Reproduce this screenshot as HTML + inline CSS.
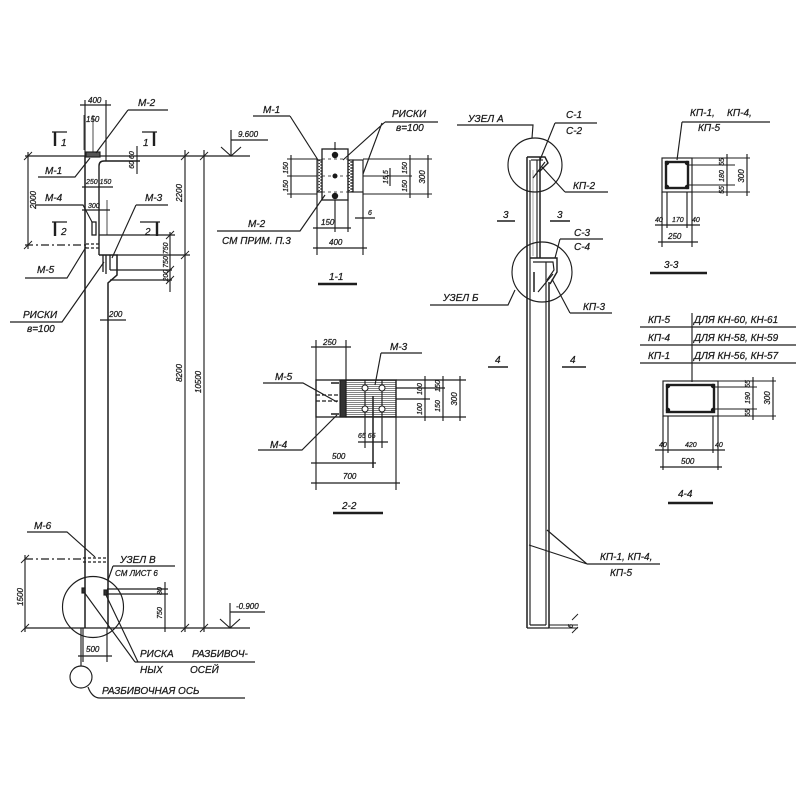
<!DOCTYPE html>
<html><head><meta charset="utf-8"><style>
html,body{margin:0;padding:0;background:#fff;}
svg{display:block;}
text{font-family:"Liberation Sans","DejaVu Sans",sans-serif;font-style:italic;font-size:10px;fill:#1a1a1a;stroke:#1a1a1a;stroke-width:0.25;}
.s{font-size:8px;}
.xs{font-size:7px;}
</style></head><body>
<svg width="800" height="800" viewBox="0 0 800 800" xmlns="http://www.w3.org/2000/svg">
<defs>
<pattern id="hh" width="4" height="2" patternUnits="userSpaceOnUse"><rect width="4" height="2" fill="#fff"/><line x1="0" y1="0.5" x2="4" y2="0.5" stroke="#666" stroke-width="0.8"/></pattern>
<pattern id="zz" width="5" height="3" patternUnits="userSpaceOnUse"><rect width="5" height="3" fill="#fff"/><path d="M0,0 L5,1.5 L0,3" fill="none" stroke="#333" stroke-width="0.8"/></pattern>
</defs>
<g fill="none" stroke="#1e1e1e" stroke-width="1.15">
<!-- ===== LEFT COLUMN ELEVATION ===== -->
<path d="M85,156 V628" stroke-width="1.5"/>
<path d="M25,156 H250"/>
<path d="M25,628 H250"/>
<rect x="86" y="152" width="14" height="5" fill="#555"/>
<path d="M99,255 V166 Q99,161 104,161 H140" stroke-width="1.4"/>
<path d="M99,255 H117 V275 L108,283 V628" stroke-width="1.5"/>
<!-- 400 dim -->
<path d="M85,100 V156 M106,100 V161 M80,105 H111"/>
<path d="M84,115 V150 M93,115 V152" stroke-width="0.8"/>
<!-- M-4 -->
<rect x="92" y="222" width="4" height="13" stroke-width="1.3"/>
<!-- M-5 dashes -->
<path d="M86,244 H99 M86,248 H99" stroke-dasharray="3,2"/>
<path d="M25,245 H86" stroke-dasharray="8,3,2,3"/>
<path d="M99,235 H175"/>
<path d="M117,255 H190"/>
<path d="M110,270 H172 M110,280 H172"/>
<path d="M170,232 V292"/>
<path d="M103,255 V272 M106,255 V274 M110,255 V270" stroke-width="1.3"/>
<!-- 2000 dim -->
<path d="M28,152 V249"/>
<!-- small dims -->
<path d="M82,187 H113"/>
<path d="M82,210 H110"/>
<path d="M107,200 V235" stroke-width="0.8"/>
<path d="M137,146 V174"/>
<path d="M100,320 H126"/>
<!-- section marks -->
<path d="M52,132 H67 M142,132 H157 M52,222 H67 M140,222 H160" stroke-width="1.3"/>
<path d="M55,132 V146 M154,132 V146 M55,222 V236 M157,222 V236" stroke-width="2.4"/>
<!-- right dims -->
<path d="M185,150 V632 M204,150 V632"/>
<path d="M181,160 L189,152 M181,259 L189,251 M181,632 L189,624 M200,160 L208,152 M200,632 L208,624 M24,160 L32,152 M24,249 L32,241 M166,239 L174,231 M166,274 L174,266 M166,284 L174,276 M21,632 L29,624 M21,563 L29,555" stroke-width="0.9"/>
<!-- 9.600 -->
<path d="M231,130 V156 M221,147 L231,156 L241,147 M231,140 H268"/>
<!-- -0.900 -->
<path d="M230,603 V628 M220,619 L230,628 L240,619 M230,612 H265"/>
<!-- leaders top -->
<path d="M128,110 H168 M128,110 L96,153"/>
<path d="M38,177 H75 L90,158"/>
<path d="M35,205 H83 L92,222"/>
<path d="M136,205 H168 M136,205 L112,258"/>
<path d="M25,278 H67 L86,247"/>
<path d="M10,322 H62 L104,262"/>
<!-- bottom left -->
<path d="M83,558 H107 M83,562 H107" stroke-dasharray="3,2" stroke-width="1.3"/>
<path d="M25,559 H83" stroke-dasharray="8,3,2,3"/>
<path d="M25,555 V632"/>
<circle cx="93" cy="607" r="30.5"/>
<rect x="82" y="588" width="3" height="5" fill="#333"/>
<rect x="104" y="590" width="3" height="5" fill="#333"/>
<path d="M107,589 H168 M107,594 H168 M165,582 V632"/>
<path d="M83,628 V662 M107,628 V662 M78,656 H112"/>
<path d="M81,628 V666"/>
<circle cx="81" cy="677" r="11"/>
<path d="M88,687 Q92,698 100,698 H245"/>
<path d="M84,592 L135,662 M106,595 L138,662 M135,662 H255"/>
<path d="M113,566 H175 M113,566 L108,580"/>
<path d="M27,532 H67 L95,557"/>

<!-- ===== SECTION 1-1 ===== -->
<rect x="322" y="149" width="26" height="51" stroke-width="1.3"/>
<rect x="317" y="160" width="5" height="32" fill="url(#zz)"/>
<rect x="348" y="160" width="5" height="32" fill="url(#zz)"/>
<rect x="353" y="160" width="10" height="32"/>
<path d="M287,159 H317 M363,159 H432 M287,176 H317 M363,176 H412 M287,194 H317 M363,194 H432" stroke-width="0.9"/>
<path d="M322,159 H348 M322,176 H348 M322,192 H348" stroke-dasharray="3,3" stroke-width="0.7"/>
<path d="M291,155 V198 M410,155 V198 M428,155 V198 M390,168 V186"/>
<path d="M317,192 V255 M363,192 V255 M348,200 V232 M335,200 V232 M335,142 V150"/>
<path d="M313,228 H351 M313,248 H367 M355,218 H375"/>
<path d="M290,116 H253 M290,116 L318,160"/>
<path d="M385,122 H438 M385,122 L343,160 M382,123 L363,174"/>
<path d="M217,231 H300 L325,195"/>
<path d="M318,284 H357" stroke-width="2.4"/>

<!-- ===== SECTION 2-2 ===== -->
<rect x="346" y="380" width="50" height="37" fill="url(#hh)"/>
<rect x="316" y="380" width="80" height="37" stroke-width="1.3"/>
<rect x="340" y="380" width="6" height="37" fill="#333"/>
<path d="M316,395 H338 M316,401 H338" stroke-dasharray="4,2" stroke-width="1.3"/>
<path d="M331,383 H339 M331,414 H339" stroke-width="1.6"/>
<path d="M365,380 V448 M382,380 V448"/>
<path d="M373,396 V468" stroke-width="1.5"/>
<path d="M316,340 V490 M346,340 V380 M396,417 V490"/>
<path d="M311,347 H351"/>
<path d="M396,380 H466 M396,388 H445 M396,399 H430 M396,417 H466"/>
<path d="M425,376 V421 M443,376 V421 M460,376 V421"/>
<path d="M358,442 H388"/>
<path d="M311,463 H376"/>
<path d="M311,483 H400"/>
<path d="M381,353 H422 M381,353 L375,385"/>
<path d="M263,383 H303 L337,402"/>
<path d="M258,450 H302 L337,415"/>
<path d="M333,513 H383" stroke-width="2.4"/>

<!-- ===== MIDDLE COLUMN ===== -->
<path d="M527,157 V628" stroke-width="1.5"/>
<path d="M530,160 V625"/>
<path d="M537,160 V258"/>
<path d="M540,157 V258" stroke-width="1.5"/>
<path d="M533,170 V256" stroke-width="0.7" stroke="#888"/>
<path d="M527,157 H545 L548,163 L539,172" stroke-width="1.4"/>
<path d="M531,160 H543"/>
<path d="M533,178 L545,162"/>
<path d="M530,258 H557 V272 L550,284" stroke-width="1.4"/>
<path d="M533,262 H553 L554,270 L547,280"/>
<path d="M546,262 V625"/>
<path d="M549,282 V628" stroke-width="1.5"/>
<path d="M538,292 L553,274"/>
<path d="M534,272 V292" stroke-width="1.5"/>
<path d="M527,628 H549 M530,625 H546"/>
<path d="M549,628 H578 M549,625 H578 M572,620 L578,614 M572,633 L578,627" stroke-width="0.9"/>
<circle cx="535" cy="165" r="27"/>
<circle cx="542" cy="272" r="30"/>
<path d="M457,125 H533 L532,138"/>
<path d="M555,123 H597 M555,123 L540,160"/>
<path d="M565,192 H608 M565,192 L542,167"/>
<path d="M497,221 H515 M550,221 H570" stroke-width="1.6"/>
<path d="M560,239 H603 M560,239 L555,258"/>
<path d="M570,313 H612 M570,313 L552,279"/>
<path d="M430,305 H508 L515,290"/>
<path d="M488,367 H508 M562,367 H586" stroke-width="1.6"/>
<path d="M529,545 L587,564 M547,530 L587,564 M587,564 H660"/>

<!-- ===== SECTION 3-3 ===== -->
<rect x="662" y="158" width="30" height="34"/>
<rect x="666" y="162" width="22" height="26" stroke-width="2.4"/>
<path d="M692,158 H750 M689,165 H735 M689,185 H735 M692,192 H750" stroke-width="0.9"/>
<path d="M727,154 V196 M747,154 V196"/>
<path d="M662,192 V247 M667,192 V228 M687,192 V228 M692,192 V247"/>
<path d="M655,225 H700 M658,242 H698"/>
<path d="M682,122 H770 M682,122 L677,160"/>
<path d="M650,273 H707" stroke-width="2.4"/>

<!-- ===== SECTION 4-4 ===== -->
<path d="M640,327 H796 M640,345 H796 M640,363 H796"/>
<path d="M692,313 V382"/>
<rect x="663" y="381" width="55" height="35"/>
<rect x="667" y="385" width="47" height="27" stroke-width="2.4"/>
<path d="M718,381 H776 M714,387 H757 M714,409 H757 M718,416 H776" stroke-width="0.9"/>
<path d="M753,377 V420 M773,377 V420"/>
<path d="M663,416 V470 M668,416 V453 M713,416 V453 M718,416 V470"/>
<path d="M655,450 H725 M660,467 H722"/>
<path d="M668,503 H713" stroke-width="2.4"/>
</g>

<!-- bars (filled dots) -->
<g fill="#1a1a1a" stroke="none">
<circle cx="335" cy="155" r="3.2"/><circle cx="335" cy="176" r="2.5"/><circle cx="335" cy="196" r="3.2"/>
<circle cx="365" cy="388" r="3" fill="#fff" stroke="#1a1a1a"/><circle cx="382" cy="388" r="3" fill="#fff" stroke="#1a1a1a"/>
<circle cx="365" cy="409" r="3" fill="#fff" stroke="#1a1a1a"/><circle cx="382" cy="409" r="3" fill="#fff" stroke="#1a1a1a"/>
<circle cx="667" cy="163" r="2.2"/><circle cx="687" cy="163" r="2.2"/><circle cx="667" cy="187" r="2.2"/><circle cx="687" cy="187" r="2.2"/>
<circle cx="668" cy="386" r="2.2"/><circle cx="713" cy="386" r="2.2"/><circle cx="668" cy="410" r="2.2"/><circle cx="713" cy="410" r="2.2"/>
</g>

<!-- ===== TEXT ===== -->
<!-- left column -->
<text class="s" x="88" y="103">400</text>
<text class="s" x="86" y="122">150</text>
<text x="138" y="106">М-2</text>
<text x="61" y="146">1</text>
<text x="143" y="146">1</text>
<text x="45" y="174">М-1</text>
<text class="xs" x="86" y="184">250 150</text>
<text x="45" y="201">М-4</text>
<text x="145" y="201">М-3</text>
<text class="xs" x="88" y="208">300</text>
<text x="61" y="235">2</text>
<text x="145" y="235">2</text>
<text x="37" y="273">М-5</text>
<text x="23" y="318">РИСКИ</text>
<text x="27" y="332">в=100</text>
<text class="s" x="109" y="317">200</text>
<text class="s" transform="translate(36,200) rotate(-90)" text-anchor="middle">2000</text>
<text class="s" transform="translate(182,193) rotate(-90)" text-anchor="middle">2200</text>
<text class="s" transform="translate(182,373) rotate(-90)" text-anchor="middle">8200</text>
<text class="s" transform="translate(201,382) rotate(-90)" text-anchor="middle">10500</text>
<text class="xs" transform="translate(134,160) rotate(-90)" text-anchor="middle">60 60</text>
<text class="xs" transform="translate(168,262) rotate(-90)" text-anchor="middle">200 750 750</text>
<text class="s" x="238" y="137">9.600</text>
<text class="s" x="236" y="609">-0.900</text>
<text x="34" y="529">М-6</text>
<text x="120" y="563">УЗЕЛ В</text>
<text class="s" x="115" y="576">СМ ЛИСТ 6</text>
<text class="s" transform="translate(23,597) rotate(-90)" text-anchor="middle">1500</text>
<text class="xs" transform="translate(162,591) rotate(-90)" text-anchor="middle">80</text>
<text class="xs" transform="translate(162,613) rotate(-90)" text-anchor="middle">750</text>
<text class="s" x="86" y="652">500</text>
<text x="140" y="657">РИСКА</text>
<text x="192" y="657">РАЗБИВОЧ-</text>
<text x="140" y="673">НЫХ</text>
<text x="190" y="673">ОСЕЙ</text>
<text x="102" y="694">РАЗБИВОЧНАЯ ОСЬ</text>
<!-- 1-1 -->
<text x="263" y="113">М-1</text>
<text x="392" y="117">РИСКИ</text>
<text x="396" y="131">в=100</text>
<text x="248" y="227">М-2</text>
<text x="222" y="244">СМ ПРИМ. П.3</text>
<text class="xs" transform="translate(288,168) rotate(-90)" text-anchor="middle">150</text>
<text class="xs" transform="translate(288,186) rotate(-90)" text-anchor="middle">150</text>
<text class="xs" transform="translate(388,177) rotate(-90)" text-anchor="middle">15,5</text>
<text class="xs" transform="translate(407,168) rotate(-90)" text-anchor="middle">150</text>
<text class="xs" transform="translate(407,186) rotate(-90)" text-anchor="middle">150</text>
<text class="s" transform="translate(425,177) rotate(-90)" text-anchor="middle">300</text>
<text class="s" x="321" y="225">150</text>
<text class="xs" x="368" y="215">6</text>
<text class="s" x="329" y="245">400</text>
<text x="329" y="280" font-size="12">1-1</text>
<!-- 2-2 -->
<text class="s" x="323" y="345">250</text>
<text x="390" y="350">М-3</text>
<text x="275" y="380">М-5</text>
<text x="270" y="448">М-4</text>
<text class="xs" transform="translate(422,389) rotate(-90)" text-anchor="middle">100</text>
<text class="xs" transform="translate(422,409) rotate(-90)" text-anchor="middle">100</text>
<text class="xs" transform="translate(440,386) rotate(-90)" text-anchor="middle">150</text>
<text class="xs" transform="translate(440,406) rotate(-90)" text-anchor="middle">150</text>
<text class="s" transform="translate(457,399) rotate(-90)" text-anchor="middle">300</text>
<text class="xs" x="358" y="438">65 65</text>
<text class="s" x="332" y="459">500</text>
<text class="s" x="343" y="479">700</text>
<text x="342" y="509" font-size="12">2-2</text>
<!-- middle column -->
<text x="468" y="122">УЗЕЛ А</text>
<text x="566" y="118">С-1</text>
<text x="566" y="134">С-2</text>
<text x="573" y="189">КП-2</text>
<text x="503" y="218">3</text>
<text x="557" y="218">3</text>
<text x="574" y="236">С-3</text>
<text x="574" y="250">С-4</text>
<text x="443" y="301">УЗЕЛ Б</text>
<text x="583" y="310">КП-3</text>
<text x="495" y="363">4</text>
<text x="570" y="363">4</text>
<text x="600" y="560">КП-1, КП-4,</text>
<text x="610" y="576">КП-5</text>
<text class="xs" transform="translate(573,626) rotate(-90)" text-anchor="middle">6</text>
<!-- 3-3 -->
<text x="690" y="116">КП-1,</text>
<text x="727" y="116">КП-4,</text>
<text x="698" y="131">КП-5</text>
<text class="xs" transform="translate(724,162) rotate(-90)" text-anchor="middle">55</text>
<text class="xs" transform="translate(724,176) rotate(-90)" text-anchor="middle">180</text>
<text class="xs" transform="translate(724,190) rotate(-90)" text-anchor="middle">55</text>
<text class="s" transform="translate(744,176) rotate(-90)" text-anchor="middle">300</text>
<text class="xs" x="655" y="222">40</text>
<text class="xs" x="672" y="222">170</text>
<text class="xs" x="692" y="222">40</text>
<text class="s" x="668" y="239">250</text>
<text x="664" y="268" font-size="12">3-3</text>
<!-- 4-4 -->
<text x="648" y="323">КП-5</text>
<text x="694" y="323">ДЛЯ КН-60, КН-61</text>
<text x="648" y="341">КП-4</text>
<text x="694" y="341">ДЛЯ КН-58, КН-59</text>
<text x="648" y="359">КП-1</text>
<text x="694" y="359">ДЛЯ КН-56, КН-57</text>
<text class="xs" transform="translate(750,384) rotate(-90)" text-anchor="middle">55</text>
<text class="xs" transform="translate(750,398) rotate(-90)" text-anchor="middle">190</text>
<text class="xs" transform="translate(750,413) rotate(-90)" text-anchor="middle">55</text>
<text class="s" transform="translate(770,398) rotate(-90)" text-anchor="middle">300</text>
<text class="xs" x="659" y="447">40</text>
<text class="xs" x="685" y="447">420</text>
<text class="xs" x="715" y="447">40</text>
<text class="s" x="681" y="464">500</text>
<text x="678" y="497" font-size="12">4-4</text>
</svg>
</body></html>
